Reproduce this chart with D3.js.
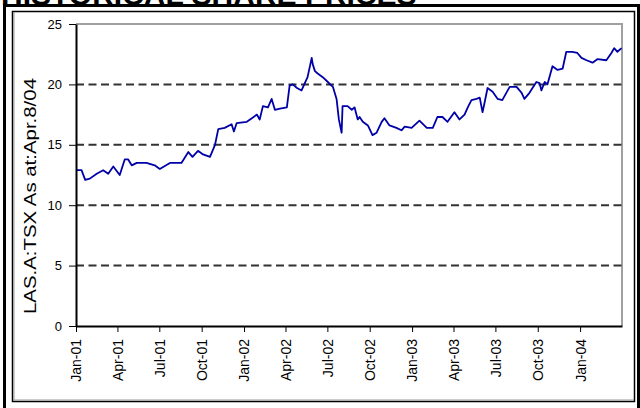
<!DOCTYPE html>
<html>
<head>
<meta charset="utf-8">
<script src="https://cdn.jsdelivr.net/npm/d3@7"></script>
<style>
  body { margin: 0; background: #fff; }
  svg { display: block; font-family: Arial, "Liberation Sans", sans-serif; }
</style>
</head>
<body>
<svg id="chart"></svg>
<script>
// share price readings (LAS.A on TSX)
const dates = [
  "2001-01-01","2001-01-13","2001-01-21","2001-01-31","2001-02-15","2001-03-01","2001-03-12","2001-03-23",
  "2001-04-06","2001-04-17","2001-04-24","2001-05-02","2001-05-13","2001-06-03","2001-06-21","2001-07-02",
  "2001-07-24","2001-08-18","2001-09-02","2001-09-11","2001-09-23","2001-10-04","2001-10-19","2001-10-30",
  "2001-11-06","2001-11-20","2001-12-05","2001-12-10","2001-12-16","2002-01-07","2002-01-18","2002-01-29",
  "2002-02-04","2002-02-11","2002-02-22","2002-03-02","2002-03-09","2002-03-20","2002-04-04","2002-04-10",
  "2002-04-17","2002-04-26","2002-05-06","2002-05-13","2002-05-19","2002-05-28","2002-05-30","2002-06-04",
  "2002-06-10","2002-06-21","2002-07-02","2002-07-13","2002-07-21","2002-07-26","2002-08-01","2002-08-03",
  "2002-08-14","2002-08-23","2002-08-29","2002-09-05","2002-09-09","2002-09-16","2002-09-27","2002-10-07",
  "2002-10-16","2002-10-27","2002-11-02","2002-11-13","2002-11-28","2002-12-09","2002-12-16","2002-12-31",
  "2003-01-17","2003-02-02","2003-02-15","2003-02-25","2003-03-08","2003-03-19","2003-04-03","2003-04-14",
  "2003-04-25","2003-05-02","2003-05-10","2003-05-21","2003-05-28","2003-06-03","2003-06-07","2003-06-14",
  "2003-06-25","2003-07-06","2003-07-16","2003-08-01","2003-08-16","2003-08-27","2003-09-02","2003-09-13",
  "2003-09-28","2003-10-05","2003-10-09","2003-10-16","2003-10-22","2003-11-02","2003-11-13","2003-11-24",
  "2003-12-02","2003-12-15","2003-12-26","2004-01-04","2004-01-15","2004-01-28","2004-02-08","2004-02-27",
  "2004-03-09","2004-03-15","2004-03-22","2004-03-31"
];
const prices = [
  12.9,12.9,12.1,12.2,12.6,12.9,12.6,13.2,
  12.5,13.8,13.8,13.3,13.5,13.5,13.3,13.0,
  13.5,13.5,14.4,14.0,14.5,14.2,14.0,15.0,
  16.3,16.4,16.7,16.1,16.8,16.9,17.2,17.5,
  17.1,18.2,18.1,18.8,17.9,18.0,18.1,19.9,
  20.0,19.7,19.5,20.1,20.6,22.2,21.7,21.1,
  20.9,20.6,20.2,19.8,18.8,17.1,16.0,18.2,
  18.2,17.9,18.1,17.1,17.3,16.9,16.6,15.8,
  16.0,16.9,17.2,16.6,16.4,16.2,16.5,16.4,
  17.0,16.4,16.4,17.3,17.3,16.9,17.7,17.1,
  17.5,18.1,18.7,18.8,18.9,17.7,18.4,19.7,
  19.4,18.8,18.7,19.8,19.8,19.3,18.8,19.3,
  20.2,20.1,19.5,20.2,20.0,21.5,21.2,21.3,
  22.7,22.7,22.6,22.2,22.0,21.8,22.1,22.0,
  22.6,23.0,22.7,23.0
];
const xTicks = ["2001-01-01","2001-04-01","2001-07-01","2001-10-01","2002-01-01","2002-04-01","2002-07-01",
  "2002-10-01","2003-01-01","2003-04-01","2003-07-01","2003-10-01","2004-01-01"];
const yTicks = [0, 5, 10, 15, 20, 25];
const gridValues = [5, 10, 15, 20];

const TITLE = "HISTORICAL SHARE PRICES";
const Y_LABEL = "LAS.A:TSX As at:Apr.8/04";

const width = 640, height = 408;
const parse = d3.timeParse("%Y-%m-%d");
const data = dates.map((d, i) => ({date: parse(d), value: prices[i]}));

const svg = d3.select("#chart").attr("width", width).attr("height", height);

svg.append("rect").attr("width", width).attr("height", height).attr("fill", "#fff");

// frames
svg.append("rect")
    .attr("x", 4.5).attr("y", 5.5).attr("width", 634).attr("height", 410)
    .attr("fill", "none").attr("stroke", "#000").attr("stroke-width", 3);
svg.append("rect")
    .attr("x", 12.5).attr("y", 11.5).attr("width", 622).attr("height", 390)
    .attr("fill", "none").attr("stroke", "#000").attr("stroke-width", 1.5);
svg.append("path")
    .attr("d", "M14,12 V400 H634")
    .attr("fill", "none").attr("stroke", "#999").attr("stroke-width", 1);

// title sits partly above the top edge, as in the original capture
svg.append("text")
    .attr("x", 1).attr("y", 5)
    .style("font-size", "30px").style("font-weight", "bold")
    .text(TITLE);

const plotL = 76, plotR = 622, plotT = 24, plotB = 326;

const x = d3.scaleTime()
    .domain([parse("2001-01-01"), parse("2004-04-01")])
    .range([plotL, plotR]);
const y = d3.scaleLinear().domain([0, 25]).range([plotB, plotT]);

// plot area border (top + right)
svg.append("path")
    .attr("d", `M${plotL},${plotT} H${plotR} V${plotB}`)
    .attr("fill", "none").attr("stroke", "#a0a0a0").attr("stroke-width", 2);

svg.append("g")
    .selectAll("line")
    .data(gridValues)
    .join("line")
    .attr("x1", plotL).attr("x2", plotR)
    .attr("y1", d => y(d)).attr("y2", d => y(d))
    .attr("stroke", "#333").attr("stroke-width", 2)
    .attr("stroke-dasharray", "8,4.5");

const line = d3.line()
    .x(d => x(d.date))
    .y(d => y(d.value));

svg.append("path")
    .datum(data)
    .attr("d", line)
    .attr("fill", "none")
    .attr("stroke", "#0000a8")
    .attr("stroke-width", 1.8)
    .attr("stroke-linejoin", "round");

// axes
const yAxis = svg.append("g")
    .attr("transform", `translate(${plotL},0)`)
    .call(d3.axisLeft(y).tickValues(yTicks).tickSize(7).tickPadding(7).tickSizeOuter(0));
yAxis.select(".domain").attr("stroke-width", 2);
yAxis.selectAll("text").style("font-size", "13px").attr("fill", "#000");

const xAxis = svg.append("g")
    .attr("transform", `translate(0,${plotB})`)
    .call(d3.axisBottom(x).tickValues(xTicks.map(parse)).tickSize(6).tickSizeOuter(0)
        .tickFormat(d3.timeFormat("%b-%y")));
xAxis.select(".domain").attr("stroke-width", 2);
xAxis.selectAll("text")
    .attr("transform", "rotate(-90)")
    .attr("x", -13).attr("y", 0).attr("dy", "0.35em")
    .style("text-anchor", "end")
    .style("font-size", "14px")
    .attr("fill", "#000");

svg.append("text")
    .attr("transform", "translate(36,196) rotate(-90)")
    .attr("text-anchor", "middle")
    .attr("textLength", 236)
    .attr("lengthAdjust", "spacingAndGlyphs")
    .style("font-size", "17px")
    .text(Y_LABEL);
</script>
</body>
</html>
